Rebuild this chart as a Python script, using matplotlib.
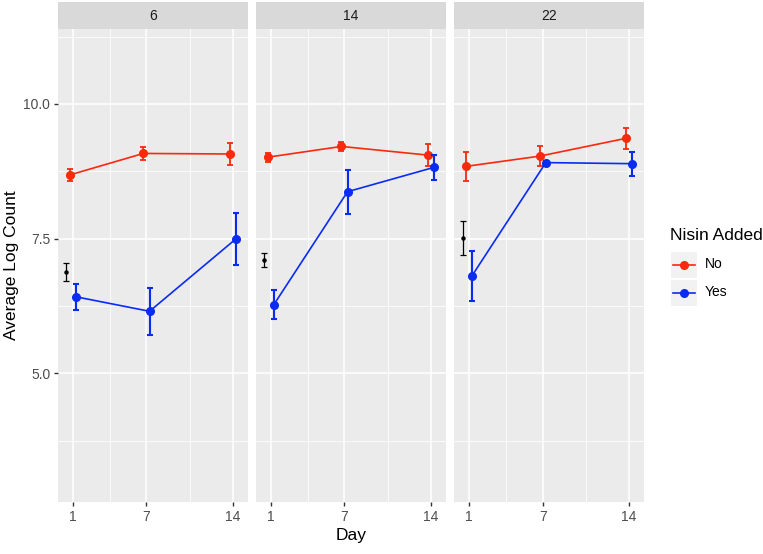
import numpy as np
import matplotlib
matplotlib.use('Agg')
import matplotlib.pyplot as plt
from matplotlib.lines import Line2D
from matplotlib.patches import Rectangle

plt.rcParams['font.family'] = ['Liberation Sans', 'DejaVu Sans']

# facets (temperature) and sampling days
facets = ['6', '14', '22']
days = [1, 7, 14]

# Nisin Added = No
no_mean = [[8.68, 9.08, 9.07], [9.01, 9.21, 9.05], [8.84, 9.03, 9.36]]
no_err = [[0.11, 0.12, 0.21], [0.08, 0.08, 0.21], [0.27, 0.18, 0.20]]
# Nisin Added = Yes
yes_mean = [[6.42, 6.15, 7.49], [6.27, 8.37, 8.82], [6.81, 8.91, 8.89]]
yes_err = [[0.24, 0.44, 0.48], [0.27, 0.41, 0.24], [0.46, 0.03, 0.22]]
# initial count (black point)
init_mean = [6.88, 7.11, 7.51]
init_err = [0.16, 0.13, 0.31]

legend_labels = ['No', 'Yes']

red = '#F8290C'
blue = '#0A2BF2'
W, H = 763, 554
fig = plt.figure(figsize=(W / 100, H / 100), dpi=100)

lefts = [58, 256, 454.3]
pw = 189.6
top, bottom = 29, 502
strip_top = 2

for i, f in enumerate(facets):
    ax = fig.add_axes([lefts[i] / W, (H - bottom) / H, pw / W, (bottom - top) / H])
    ax.set_facecolor('#EBEBEB')
    ax.set_xlim(-0.19, 15.22)
    ax.set_ylim(2.61, 11.39)
    for y in [3.75, 6.25, 8.75, 11.25]:
        ax.axhline(y, color='white', lw=0.55, zorder=0)
    for x in [4, 10.5]:
        ax.axvline(x, color='white', lw=0.55, zorder=0)
    for y in [5, 7.5, 10]:
        ax.axhline(y, color='white', lw=1.1, zorder=0)
    for x in days:
        ax.axvline(x, color='white', lw=1.1, zorder=0)
    for s in ax.spines.values():
        s.set_visible(False)

    xd = np.array(days)
    ax.errorbar(xd - 0.25, no_mean[i], yerr=no_err[i], color=red, lw=1.2,
                elinewidth=1.3, capsize=2.4, capthick=1.3, marker='o', ms=5.5, zorder=3)
    ax.errorbar(xd + 0.25, yes_mean[i], yerr=yes_err[i], color=blue, lw=1.2,
                elinewidth=1.5, capsize=2.4, capthick=1.5, marker='o', ms=5.5, zorder=4)
    ax.errorbar([0.5], [init_mean[i]], yerr=[init_err[i]], color='black', lw=0,
                elinewidth=0.9, capsize=2.4, capthick=0.9, marker='o', ms=2.2, zorder=3)

    ax.set_xticks(days)
    ax.set_xticklabels([str(d) for d in days])
    ax.set_yticks([5, 7.5, 10])
    ax.tick_params(colors='#333333', labelcolor='#4D4D4D', labelsize=10,
                   length=3, width=1, pad=2.5)
    if i == 0:
        ax.set_yticklabels(['5.0', '7.5', '10.0'])
        ax.set_ylabel('Average Log Count', fontsize=12.5, labelpad=3)
    else:
        ax.set_yticklabels([])
        ax.tick_params(axis='y', length=0)
    if i == 1:
        ax.set_xlabel('Day', fontsize=12.5, labelpad=3)

    sax = fig.add_axes([lefts[i] / W, (H - top) / H, pw / W, (top - strip_top) / H])
    sax.set_facecolor('#D9D9D9')
    sax.set_xticks([])
    sax.set_yticks([])
    for s in sax.spines.values():
        s.set_visible(False)
    sax.text(0.5, 0.5, f, ha='center', va='center', fontsize=10, color='#1A1A1A',
             transform=sax.transAxes)

# legend, ggplot style with grey key boxes
def fx(px):
    return px / W

def fy(py):
    return 1 - py / H

fig.text(fx(670), fy(235), 'Nisin Added', fontsize=12.5, ha='left', va='center')
key_top = [251.5, 279.5]
for k, (lab, col) in enumerate(zip(legend_labels, [red, blue])):
    y0 = key_top[k]
    fig.add_artist(Rectangle((fx(671), fy(y0 + 26)), 26 / W, 26 / H,
                             transform=fig.transFigure, facecolor='#F2F2F2',
                             edgecolor='none'))
    yc = fy(y0 + 13)
    fig.add_artist(Line2D([fx(673), fx(695)], [yc, yc], color=col, lw=1.2,
                          transform=fig.transFigure))
    fig.add_artist(Line2D([fx(684)], [yc], color=col, marker='o', ms=5.5,
                          transform=fig.transFigure))
    fig.text(fx(705), yc, lab, fontsize=10, ha='left', va='center')

fig.savefig('out.png', dpi=100)
